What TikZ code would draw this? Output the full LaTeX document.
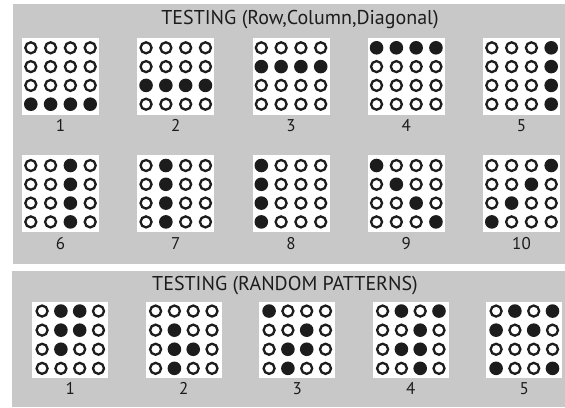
\documentclass[tikz,border=0pt]{standalone}
\usepackage{fontspec}
\setmainfont{PT Sans}
\definecolor{panelgray}{HTML}{C8C8C8}
\definecolor{ink}{HTML}{1C1C1C}
\tikzset{
  panel/.style={fill=panelgray, draw=none},
  cellbox/.style={fill=white, draw=none, inner sep=0pt},
  lbl/.style={text=ink, inner sep=0pt, font=\fontsize{17bp}{20bp}\selectfont},
  ttl/.style={text=ink, inner sep=0pt, font=\fontsize{20bp}{24bp}\selectfont},
  ondot/.style={fill=ink, draw=none},
  offdot/.style={draw=ink, line width=2.3bp, fill=white},
}
% #1 name, #2 centre x, #3 top y, #4 size, #5 col step, #6 row step, #7 pattern, #8 label
\newcommand\dotgrid[8]{%
  \node[cellbox, minimum width=#4bp, minimum height=#4bp, anchor=north] (#1) at (#2,#3) {};
  \foreach \v [count=\k from 0] in {#7} {
    \pgfmathsetmacro\px{#2+(mod(\k,4)-1.5)*#5}
    \pgfmathsetmacro\py{#3+#4/2+(floor(\k/4)-1.5)*#6}
    \ifnum\v=1
      \path[ondot] (\px,\py) circle[radius=6.8bp];
    \else
      \path[offdot] (\px,\py) circle[radius=5.5bp];
    \fi
  }
  \node[lbl, anchor=base] (#1l) at (#2,#3+#4+17) {#8};
}
\begin{document}
\begin{tikzpicture}[x=1bp, y=-1bp]
\useasboundingbox (0,0) rectangle (565,407);
\fill[white] (0,0) rectangle (565,407);
\fill[panel] (12.5,4) rectangle (565,264.3);
\fill[panel] (12.3,270.7) rectangle (565,407);
\node[ttl, anchor=base] (title1) at (300,24) {TESTING (Row,Column,Diagonal)};
\node[ttl, anchor=base] (title2) at (285,290) {TESTING (RANDOM PATTERNS)};
% row 1
\dotgrid{a1}{60.5}{37.5}{77}{19.8}{18.8}{0,0,0,0, 0,0,0,0, 0,0,0,0, 1,1,1,1}{1}
\dotgrid{a2}{175.75}{37.5}{77}{19.8}{18.8}{0,0,0,0, 0,0,0,0, 1,1,1,1, 0,0,0,0}{2}
\dotgrid{a3}{291}{37.5}{77}{19.8}{18.8}{0,0,0,0, 1,1,1,1, 0,0,0,0, 0,0,0,0}{3}
\dotgrid{a4}{406.25}{37.5}{77}{19.8}{18.8}{1,1,1,1, 0,0,0,0, 0,0,0,0, 0,0,0,0}{4}
\dotgrid{a5}{521.5}{37.5}{77}{19.8}{18.8}{0,0,0,1, 0,0,0,1, 0,0,0,1, 0,0,0,1}{5}
% row 2
\dotgrid{b1}{60.5}{155.2}{77}{19.8}{18.8}{0,0,1,0, 0,0,1,0, 0,0,1,0, 0,0,1,0}{6}
\dotgrid{b2}{175.75}{155.2}{77}{19.8}{18.8}{0,1,0,0, 0,1,0,0, 0,1,0,0, 0,1,0,0}{7}
\dotgrid{b3}{291}{155.2}{77}{19.8}{18.8}{1,0,0,0, 1,0,0,0, 1,0,0,0, 1,0,0,0}{8}
\dotgrid{b4}{406.25}{155.2}{77}{19.8}{18.8}{1,0,0,0, 0,1,0,0, 0,0,1,0, 0,0,0,1}{9}
\dotgrid{b5}{521.5}{155.2}{77}{19.8}{18.8}{0,0,0,1, 0,0,1,0, 0,1,0,0, 1,0,0,0}{10}
% random patterns
\dotgrid{c1}{70.3}{301.7}{76}{18.8}{19.1}{0,1,1,0, 0,1,1,0, 0,1,0,0, 0,0,0,0}{1}
\dotgrid{c2}{183.8}{301.7}{76}{18.8}{19.1}{0,0,0,0, 0,1,0,0, 0,1,1,0, 0,1,0,0}{2}
\dotgrid{c3}{297.3}{301.7}{76}{18.8}{19.1}{1,0,0,0, 0,0,1,0, 0,1,1,0, 0,1,0,0}{3}
\dotgrid{c4}{410.8}{301.7}{76}{18.8}{19.1}{0,1,0,1, 0,0,1,0, 0,1,1,0, 0,0,1,0}{4}
\dotgrid{c5}{524.3}{301.7}{76}{18.8}{19.1}{0,1,0,1, 1,0,1,0, 0,0,0,0, 1,0,0,1}{5}
\end{tikzpicture}
\end{document}
